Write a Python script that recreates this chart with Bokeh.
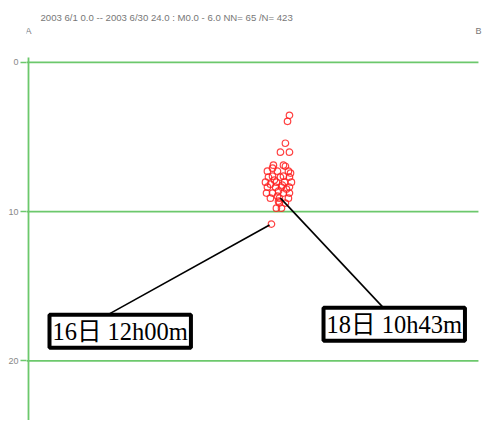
from bokeh.plotting import figure
from bokeh.models import Range1d, FixedTicker, Label
from bokeh.embed import file_html
from bokeh.resources import INLINE

# ---- data ----
title_text = "2003 6/1 0.0 -- 2003 6/30 24.0 :  M0.0 - 6.0   NN= 65 /N= 423"
end_labels = ["A", "B"]
end_x = [0.0, 30.0]
depth_ticks = [0, 10, 20]

# hypocenters: distance along A-B (km), depth (km)
dist_km = [17.4, 17.27, 17.13, 16.8, 17.4, 16.33, 17.0, 16.27, 15.93, 16.6,
           17.33, 17.47, 16.27, 17.0, 17.4, 15.8, 16.53, 17.07, 17.53, 15.93,
           16.47, 16.87, 17.4, 15.87, 16.27, 16.67, 17.0, 17.4, 16.13, 16.73,
           17.33, 16.73, 17.13, 16.53, 16.87, 16.2, 16.6, 16.93, 16.4, 17.2,
           16.8, 16.13, 16.67, 16.0, 17.13]
depth_km = [3.55, 3.95, 5.42, 6.02, 6.02, 6.89, 6.89, 7.09, 7.29, 7.29,
            7.29, 7.42, 7.63, 7.63, 7.69, 8.03, 8.03, 8.03, 8.03, 8.36,
            8.36, 8.36, 8.36, 8.76, 8.76, 8.63, 8.76, 8.76, 9.10, 9.10,
            9.10, 9.43, 9.43, 9.77, 9.77, 10.84, 8.96, 8.23, 7.89, 8.49,
            7.69, 8.16, 9.30, 7.69, 6.96]

# callouts
callout_text = ["16日 12h00m", "18日 10h43m"]
callout_box_x = [1.4, 19.67]
callout_box_y = [16.92, 16.45]
callout_x0 = [5.27, 23.67]
callout_y0 = [16.92, 16.45]
callout_x1 = [16.07, 16.8]
callout_y1 = [10.9, 9.1]

GREEN = "#6cc86c"

x_start = -2 / 15
p = figure(width=482, height=420, output_backend="svg", toolbar_location=None,
           x_range=Range1d(x_start, 30.27), y_range=Range1d(24.0, -3.61),
           min_border_left=26, min_border_right=0, min_border_top=8,
           min_border_bottom=0, outline_line_color=None)
p.xaxis.visible = False
p.grid.visible = False
ax = p.yaxis[0]
ax.ticker = FixedTicker(ticks=depth_ticks)
ax.axis_line_color = None
ax.major_tick_line_color = GREEN
ax.major_tick_line_width = 1.5
ax.major_tick_out = 6
ax.major_tick_in = 0
ax.minor_tick_line_color = None
ax.major_label_standoff = 2
ax.major_label_text_font = "Liberation Sans"
ax.major_label_text_font_size = "9px"
ax.major_label_text_color = "#888888"

# horizontal depth lines
p.segment(x0=[x_start] * len(depth_ticks), x1=[end_x[1]] * len(depth_ticks),
          y0=depth_ticks, y1=depth_ticks, line_color=GREEN, line_width=1.8)
# vertical line at A
p.segment(x0=[end_x[0]], x1=[end_x[0]], y0=[-0.33], y1=[25],
          line_color=GREEN, line_width=1.8)

# hypocenters
p.scatter(dist_km, depth_km, size=6.5, marker="circle", fill_color=None,
          line_color="#ff2020", line_width=1.2, line_alpha=0.85)

# callout lines
p.segment(x0=callout_x0, y0=callout_y0, x1=callout_x1, y1=callout_y1,
          line_color="black", line_width=1.6)

for t, x, y in zip(callout_text, callout_box_x, callout_box_y):
    p.add_layout(Label(x=x, y=y, text=t, anchor="top_left",
                       text_font="'Liberation Serif', 'Noto Sans CJK JP'",
                       text_font_size="24.5px", text_color="black",
                       background_fill_color="white", border_line_color="black",
                       border_line_width=4, padding=3))

# title & end labels
p.add_layout(Label(x=0.8, y=-2.98, text=title_text, text_baseline="middle",
                   text_font="Liberation Sans", text_font_size="9.6px",
                   text_color="#777777"))
for t, x in zip(end_labels, end_x):
    p.add_layout(Label(x=x, y=-2.07, text=t, text_align="center",
                       text_baseline="middle", text_font="Liberation Sans",
                       text_font_size="9px", text_color="#777777"))

open("out.html", "w").write(file_html(p, INLINE))
